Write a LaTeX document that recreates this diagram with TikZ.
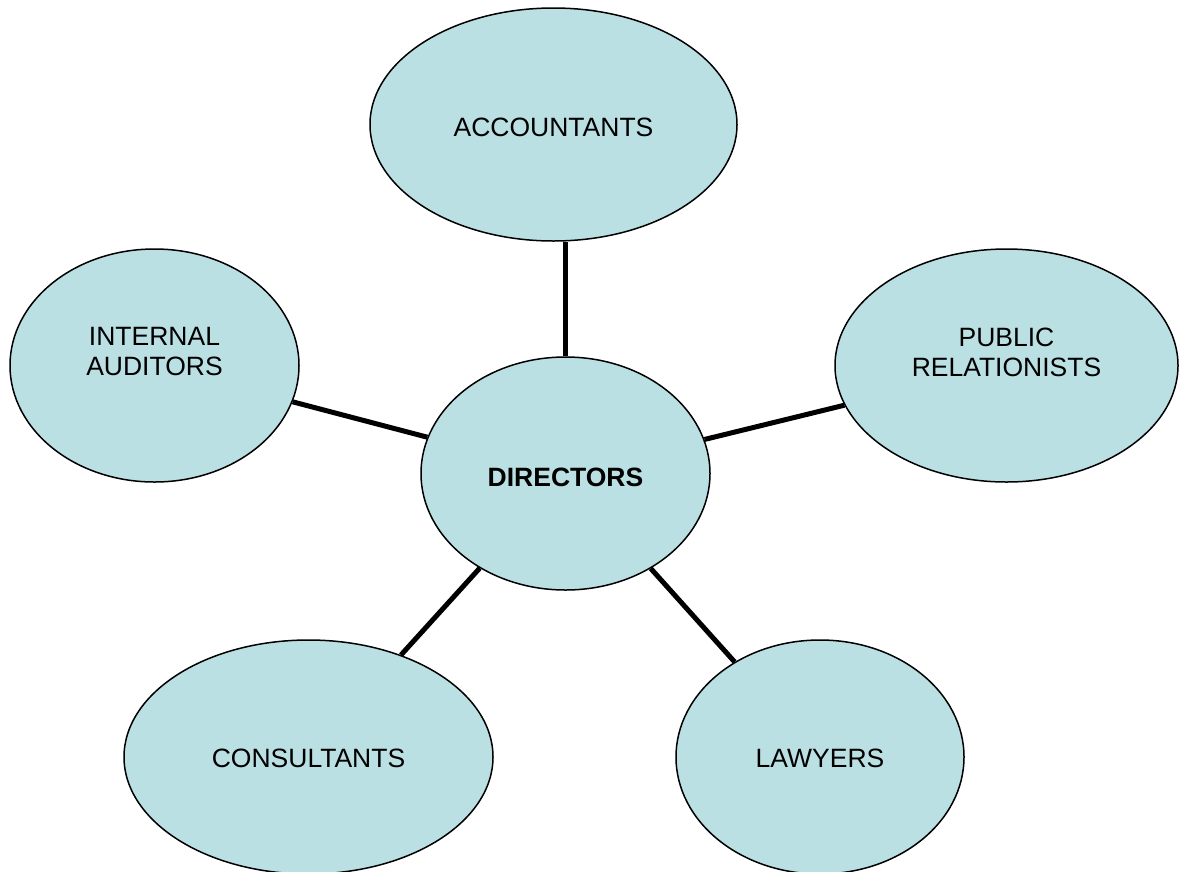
\documentclass[tikz,border=0pt]{standalone}
\usepackage{fontspec}
\setmainfont{Liberation Sans}
\usetikzlibrary{shapes.geometric}
\definecolor{bubble}{HTML}{BBE0E3}
\tikzset{
  bubble/.style={ellipse, draw=black, line width=1.5pt, fill=bubble, inner sep=0pt},
  bubbletext/.style={inner sep=0pt, align=center, font=\fontsize{26.5}{30}\selectfont},
  link/.style={line width=5pt, black}
}
\begin{document}
\begin{tikzpicture}[x=1pt,y=-1pt]
\useasboundingbox (0,0) rectangle (1183,871);
\node[bubble, minimum width=367pt, minimum height=233pt] (acc) at (553.5,124.5) {};
\node[bubble, minimum width=289pt, minimum height=233pt] (ia) at (154.5,365.5) {};
\node[bubble, minimum width=343pt, minimum height=233pt] (pr) at (1006.5,365.5) {};
\node[bubble, minimum width=289pt, minimum height=233pt] (dir) at (565.5,473.5) {};
\node[bubble, minimum width=369pt, minimum height=234pt] (con) at (308.5,757) {};
\node[bubble, minimum width=288pt, minimum height=234pt] (law) at (820,757) {};
\node[bubbletext] (acct) at (553.5,127) {ACCOUNTANTS};
\node[bubbletext] (iat) at (154.5,352) {INTERNAL\\AUDITORS};
\node[bubbletext] (prt) at (1006.5,352) {PUBLIC\\RELATIONISTS};
\node[bubbletext] (dirt) at (565.5,477) {\bfseries DIRECTORS};
\node[bubbletext] (cont) at (308.5,758) {CONSULTANTS};
\node[bubbletext] (lawt) at (820,758) {LAWYERS};
\coordinate (acctop) at (dir.north |- acc.south);
\draw[link] (dir.north) -- (acctop);
\draw[link] (dir) -- (ia);
\draw[link] (dir) -- (pr);
\draw[link] (dir) -- (con);
\draw[link] (dir) -- (law);
\end{tikzpicture}
\end{document}
